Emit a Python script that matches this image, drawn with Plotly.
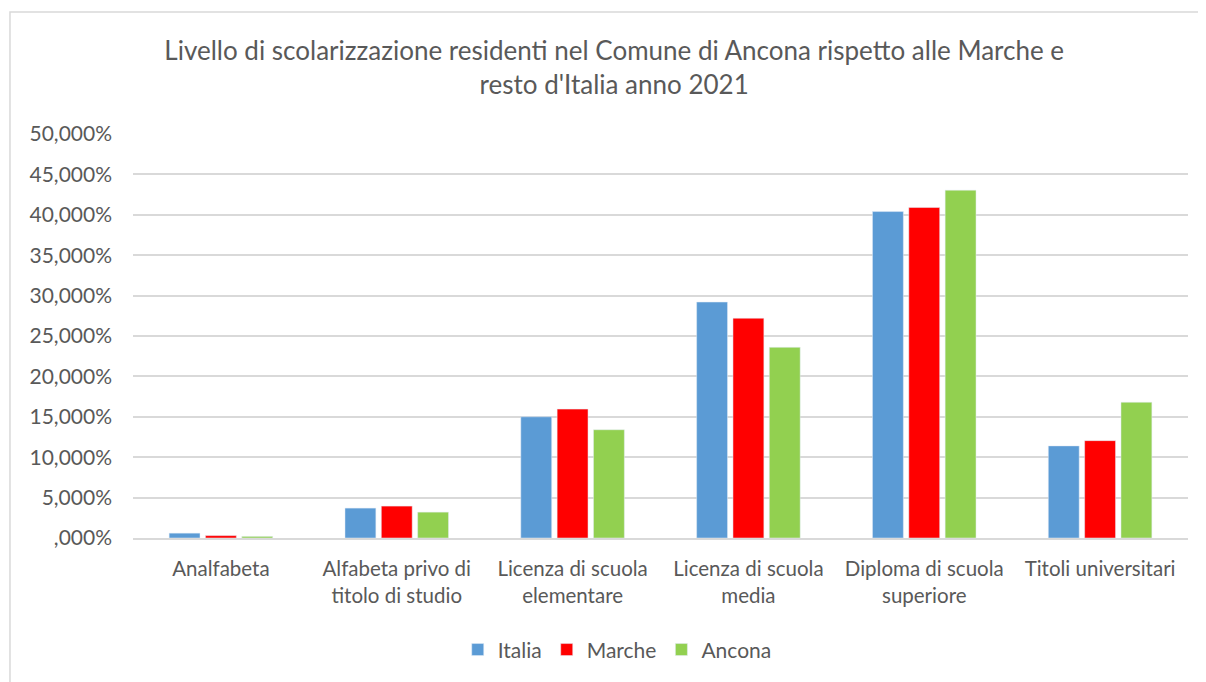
import plotly.graph_objects as go

# categorie e valori (%)
categorie = ["Analfabeta", "Alfabeta privo di<br>titolo di studio", "Licenza di scuola<br>elementare",
             "Licenza di scuola<br>media", "Diploma di scuola<br>superiore", "Titoli universitari"]
italia = [0.6, 3.7, 15.0, 29.2, 40.4, 11.4]
marche = [0.3, 3.95, 15.95, 27.2, 40.9, 12.05]
ancona = [0.2, 3.2, 13.4, 23.6, 43.05, 16.8]

tick_vals = [0, 5, 10, 15, 20, 25, 30, 35, 40, 45, 50]
tick_text = [",000%", "5,000%", "10,000%", "15,000%", "20,000%", "25,000%",
             "30,000%", "35,000%", "40,000%", "45,000%", "50,000%"]

font = "Lato, 'Open Sans', sans-serif"
grigio = "#595959"

fig = go.Figure()
fig.add_trace(go.Bar(x=categorie, y=italia, name="Italia", marker_color="#5B9BD5"))
fig.add_trace(go.Bar(x=categorie, y=marche, name="Marche", marker_color="#FF0000"))
fig.add_trace(go.Bar(x=categorie, y=ancona, name="Ancona", marker_color="#92D050"))

fig.update_layout(
    width=1198, height=674,
    paper_bgcolor="white", plot_bgcolor="white",
    margin=dict(l=125, r=18, t=126, b=144),
    font=dict(family=font, size=20, color=grigio),
    title=dict(
        text="Livello di scolarizzazione residenti nel Comune di Ancona rispetto alle Marche e<br>resto d'Italia anno 2021",
        x=0.506, xanchor="center", y=0.923, yanchor="middle",
        font=dict(size=26, color=grigio, family=font),
    ),
    barmode="group", bargap=0.38, bargroupgap=0.15,
    legend=dict(orientation="h", x=0.459, xanchor="center", y=-0.277, yanchor="middle",
                font=dict(size=21, color=grigio), itemwidth=30, traceorder="normal"),
    xaxis=dict(showline=True, linecolor="#D9D9D9", linewidth=1.5, ticks="",
               ticklabelstandoff=12, tickfont=dict(size=20.5, color=grigio)),
    yaxis=dict(range=[0, 50], tickvals=tick_vals, ticktext=tick_text,
               showgrid=True, gridcolor="#D9D9D9", gridwidth=1.5,
               zeroline=False, ticks="", ticklabelstandoff=20,
               tickfont=dict(size=21, color=grigio)),
    shapes=[dict(type="rect", xref="paper", yref="paper",
                 x0=-0.1166, x1=1.0152, y0=-0.36, y1=1.302,
                 line=dict(color="#D9D9D9", width=1.5))],
)

fig.write_html("out.html")
